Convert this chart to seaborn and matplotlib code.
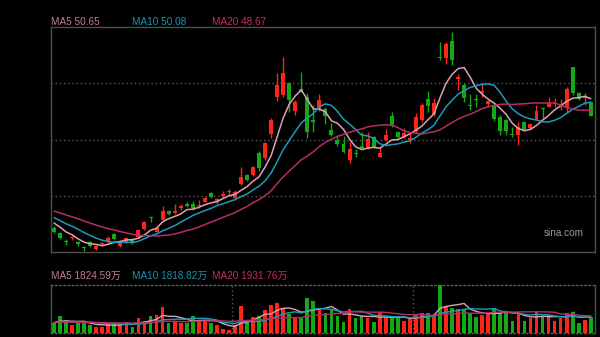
import numpy as np
import pandas as pd
import matplotlib
matplotlib.use("Agg")
import matplotlib.pyplot as plt
import seaborn as sns

# ---------------- data ----------------
opens = [29.33, 28.51, 27.10, 27.60, 27.10, 26.11, 26.97, 25.87, 26.61, 27.19,
         28.34, 26.36, 27.02, 27.46, 27.85, 29.17, 31.06, 28.75, 30.73, 32.19,
         31.76, 32.71, 33.21, 33.29, 32.88, 33.70, 35.10, 33.54, 34.53, 35.19,
         34.23, 36.54, 38.08, 38.08, 41.66, 40.83, 44.84, 51.00, 51.28, 53.30,
         48.68, 52.27, 50.95, 47.15, 49.05, 49.05, 45.50, 43.77, 43.19, 40.55,
         41.62, 42.78, 42.48, 44.31, 41.04, 43.85, 47.84, 45.17, 44.39, 43.80,
         45.34, 47.15, 50.62, 48.09, 57.55, 57.33, 60.19, 53.92, 52.92, 49.71,
         50.62, 51.56, 49.74, 49.63, 47.70, 47.15, 44.92, 44.68, 46.77, 45.88,
         47.32, 49.21, 49.34, 49.87, 49.66, 49.18, 55.85, 51.56, 50.86, 50.07]
highs = [29.66, 28.67, 27.52, 28.01, 27.19, 26.36, 27.19, 26.53, 27.02, 28.01,
         28.51, 27.35, 27.85, 27.68, 29.17, 30.49, 31.31, 29.66, 32.88, 32.30,
         33.29, 33.29, 33.62, 33.79, 33.95, 34.45, 35.27, 34.28, 35.44, 35.77,
         35.60, 39.44, 38.24, 39.64, 42.04, 43.60, 47.43, 54.86, 57.50, 53.42,
         50.45, 55.12, 51.56, 49.63, 51.44, 49.30, 46.66, 44.68, 44.56, 43.52,
         42.37, 45.17, 45.17, 44.59, 42.74, 45.67, 48.52, 45.42, 45.83, 45.01,
         48.26, 49.96, 51.93, 50.83, 60.07, 60.07, 61.72, 54.69, 53.21, 51.44,
         51.39, 53.21, 50.53, 49.96, 47.98, 47.32, 46.04, 46.87, 46.87, 46.61,
         49.63, 49.34, 51.00, 50.83, 50.62, 52.64, 55.94, 51.82, 51.56, 50.17]
lows = [28.51, 27.52, 26.53, 27.35, 26.36, 25.54, 26.20, 25.70, 26.36, 26.90,
        27.35, 26.20, 26.86, 26.77, 27.60, 29.00, 30.32, 28.67, 30.65, 31.48,
        31.64, 32.30, 32.80, 32.30, 32.71, 33.54, 34.28, 33.37, 34.36, 34.78,
        34.03, 36.43, 37.09, 37.91, 38.74, 40.55, 44.13, 50.29, 51.00, 48.47,
        47.98, 51.77, 44.18, 45.17, 48.64, 46.49, 44.51, 42.78, 41.75, 40.01,
        41.05, 42.20, 42.37, 42.53, 41.00, 43.69, 46.04, 44.18, 44.18, 43.35,
        44.96, 46.87, 48.47, 47.86, 57.05, 56.34, 56.23, 52.10, 50.07, 48.80,
        49.34, 51.00, 49.46, 46.99, 44.68, 44.68, 44.39, 43.03, 45.34, 45.67,
        47.15, 47.43, 49.25, 49.34, 48.80, 48.42, 51.28, 50.45, 49.63, 47.81]
closes = [28.67, 27.68, 26.94, 27.76, 26.61, 25.95, 26.41, 26.36, 26.77, 27.76,
          27.52, 27.10, 27.68, 26.94, 29.00, 30.24, 30.90, 29.41, 32.14, 31.64,
          32.09, 32.88, 33.04, 32.55, 33.13, 34.20, 34.45, 34.12, 35.02, 35.44,
          35.32, 37.79, 37.25, 39.44, 39.18, 43.31, 47.15, 52.92, 54.86, 50.53,
          50.17, 52.02, 45.22, 46.90, 50.45, 47.89, 44.68, 43.11, 41.92, 42.42,
          41.46, 42.61, 44.02, 42.74, 41.66, 44.68, 46.24, 44.30, 44.96, 44.18,
          47.65, 49.63, 49.51, 49.91, 57.33, 59.64, 57.05, 54.25, 50.73, 49.54,
          50.45, 51.94, 50.29, 47.32, 45.34, 45.34, 44.68, 46.04, 45.50, 46.44,
          48.63, 48.97, 50.01, 50.04, 49.82, 52.27, 51.56, 50.62, 51.03, 47.86]
# volume in 万 shares
volumes = [1099, 1926, 1473, 906, 1167, 1167, 906, 714, 714, 1020,
           986, 1099, 1280, 714, 1666, 1360, 1926, 2039, 2980, 1167,
           1360, 1167, 1167, 1926, 1473, 1473, 1099, 906, 419, 340,
           906, 3059, 1280, 1779, 1926, 2606, 3172, 3433, 2833, 2153,
           1700, 1666, 3932, 3626, 2606, 2232, 2606, 1926, 1280, 2719,
           1733, 1926, 1733, 1280, 2345, 1779, 1779, 1779, 1360, 1552,
           2039, 2232, 2232, 2039, 5438, 3059, 2866, 2685, 2685, 2232,
           1779, 2039, 2232, 2799, 2413, 2493, 1394, 2232, 1394, 1666,
           2413, 1779, 2039, 1394, 1666, 2300, 2413, 1167, 1473, 1779]
# closes / volumes before the visible window (estimated from the MA lines' start)
prior_close = [33.95, 33.62, 33.79, 33.45, 33.13, 33.29, 32.96, 33.13, 32.80, 32.14,
               32.47, 32.14, 31.81, 31.64, 31.48, 31.15, 30.82, 30.16, 29.99]
prior_volume = [1133, 1246, 1020, 1360, 1133, 1246, 1020, 1133, 1360, 1246,
                1133, 1020, 1246, 1133, 1360, 1133, 1246, 1133, 1246]
ma_windows = [5, 10, 20]
price_labels = ["MA5 50.65", "MA10 50.08", "MA20 48.67"]
volume_labels = ["MA5 1824.59万", "MA10 1818.82万", "MA20 1931.76万"]
watermark = "sina.com"

# ---------------- style ----------------
sns.set_style("dark", {"axes.facecolor": "black", "figure.facecolor": "black"})
plt.rcParams['font.family'] = ['Liberation Sans', 'Noto Sans CJK SC', 'DejaVu Sans']

UP = '#ff2418'
DOWN = '#14a814'
LINE_COLORS = ['#dba2b3', '#1b9cb6', '#b42d66']
TEXT_COLORS = ['#c27c93', '#1a93ac', '#c42d62']
FRAME = '#4d4d4d'
GRID = '#5c5c5c'
DOT = (0, (1, 2))

n = len(closes)
idx = np.arange(n)
o = np.array(opens); c = np.array(closes)
h = np.array(highs); l = np.array(lows)
v = np.array(volumes, dtype=float)
up = c >= o
colors = np.where(up, UP, DOWN)

full_close = pd.Series(prior_close + closes)
full_vol = pd.Series(prior_volume + volumes, dtype=float)
np_prior = len(prior_close)

W, H = 600, 337
fig = plt.figure(figsize=(W / 100, H / 100), dpi=100, facecolor='black')
ax = fig.add_axes([51 / W, (H - 252) / H, 544 / W, 225 / H])
axv = fig.add_axes([51 / W, (H - 333) / H, 544 / W, 48 / H])

xlim = (-0.5, 89.7)
ylo, yhi = 25.37, 62.50

# ---------------- price panel ----------------
ax.set_facecolor('black')
ax.set_xlim(*xlim)
ax.set_ylim(ylo, yhi)
for f in (0.25, 0.5, 0.75):
    ax.axhline(ylo + f * (yhi - ylo), color=GRID, lw=1, ls=DOT, zorder=0)

ax.vlines(idx, l, h, colors=colors, lw=1, zorder=2)
body_bottom = np.minimum(o, c)
body_h = np.maximum(np.abs(c - o), 0.17)
ax.bar(idx, body_h, bottom=body_bottom, width=0.66, color=colors,
       linewidth=0, zorder=3)

for w, col in zip(ma_windows, LINE_COLORS):
    ma = full_close.rolling(w, min_periods=1).mean().to_numpy()[np_prior:]
    sns.lineplot(x=idx, y=ma, ax=ax, color=col, linewidth=1.1, zorder=4,
                 legend=False)

ax.set_xticks([]); ax.set_yticks([])
ax.set_xlabel(''); ax.set_ylabel('')
for s in ax.spines.values():
    s.set_color(FRAME); s.set_linewidth(1); s.set_visible(True)

ax.text(584 / W, 1 - 233.5 / H, watermark, transform=fig.transFigure,
        ha='right', va='center', color='#9a9a9a', fontsize=7.2,
        family=['Liberation Sans', 'DejaVu Sans'])

# ---------------- volume panel ----------------
axv.set_facecolor('black')
axv.set_xlim(*xlim)
axv.set_ylim(0, v.max())
axv.bar(idx, v, width=0.62, color=colors, linewidth=0, zorder=3)
for w, col in zip(ma_windows, LINE_COLORS):
    mv = full_vol.rolling(w, min_periods=1).mean().to_numpy()[np_prior:]
    sns.lineplot(x=idx, y=mv, ax=axv, color=col, linewidth=1.0, zorder=4,
                 legend=False)
for xm in (29.5, 59.5):
    axv.axvline(xm, color=GRID, lw=1, ls=DOT, zorder=1)
axv.set_xticks([]); axv.set_yticks([])
axv.set_xlabel(''); axv.set_ylabel('')
for name, s in axv.spines.items():
    s.set_visible(True); s.set_linewidth(1)
    if name in ('top', 'bottom'):
        s.set_color(GRID); s.set_linestyle(DOT)
    else:
        s.set_color(FRAME)

# ---------------- MA legends ----------------
xs = [51, 131.5, 211.5]
for x, txt, col in zip(xs, price_labels, TEXT_COLORS):
    fig.text(x / W, 1 - 22 / H, txt, color=col, fontsize=7.2,
             ha='left', va='center')
for x, txt, col in zip(xs, volume_labels, TEXT_COLORS):
    fig.text(x / W, 1 - 276 / H, txt, color=col, fontsize=7.2,
             ha='left', va='center',
             family=['Liberation Sans', 'Noto Sans CJK SC', 'DejaVu Sans'])

fig.savefig('out.png', dpi=100, facecolor='black')
